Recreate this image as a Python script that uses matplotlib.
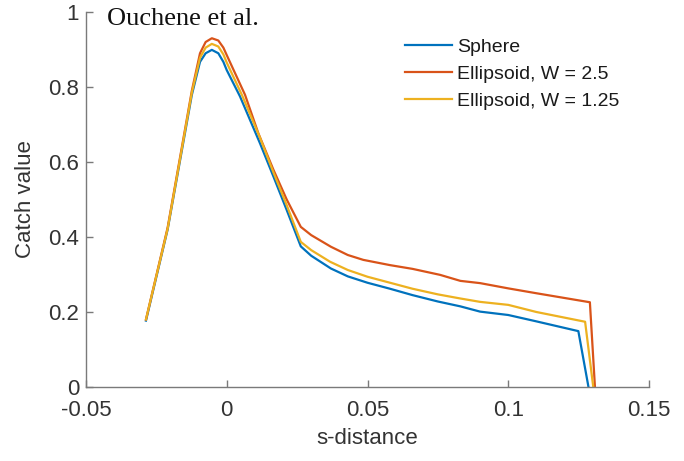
import matplotlib
matplotlib.use("Agg")
import matplotlib.pyplot as plt
from matplotlib.ticker import FixedLocator, FuncFormatter

# Catch value along the s-distance for three particle shapes
sphere_s = [-0.0287, -0.021, -0.0124, -0.0095, -0.0075, -0.0053, -0.003, -0.0012,
            0.0, 0.0047, 0.0118, 0.0166, 0.0213, 0.0263, 0.030, 0.037, 0.043,
            0.050, 0.058, 0.066, 0.075, 0.083, 0.090, 0.100, 0.110, 0.1249, 0.1285]
sphere_c = [0.177, 0.42, 0.779, 0.867, 0.89, 0.899, 0.89, 0.867,
            0.845, 0.775, 0.65, 0.561, 0.472, 0.375, 0.35, 0.316, 0.295,
            0.278, 0.262, 0.245, 0.228, 0.215, 0.201, 0.192, 0.175, 0.149, 0.0]

ell25_s = [-0.0287, -0.021, -0.0124, -0.0095, -0.0075, -0.0053, -0.003, -0.0012,
           0.0, 0.0065, 0.0112, 0.0166, 0.0213, 0.0263, 0.030, 0.037, 0.043,
           0.0485, 0.058, 0.066, 0.0758, 0.083, 0.090, 0.100, 0.110, 0.129, 0.1308]
ell25_c = [0.18, 0.425, 0.79, 0.89, 0.92, 0.93, 0.924, 0.905,
           0.885, 0.779, 0.677, 0.579, 0.50, 0.427, 0.405, 0.374, 0.352,
           0.339, 0.325, 0.315, 0.299, 0.283, 0.277, 0.263, 0.25, 0.226, 0.0]

ell125_s = [-0.0287, -0.021, -0.0124, -0.0095, -0.0075, -0.0053, -0.003, -0.0012,
            0.0, 0.0055, 0.0118, 0.0166, 0.0213, 0.0263, 0.030, 0.0367, 0.043,
            0.050, 0.058, 0.066, 0.075, 0.083, 0.090, 0.100, 0.110, 0.1273, 0.1302]
ell125_c = [0.18, 0.422, 0.785, 0.878, 0.905, 0.915, 0.908, 0.887,
            0.865, 0.777, 0.665, 0.572, 0.485, 0.387, 0.365, 0.334, 0.312,
            0.294, 0.278, 0.262, 0.247, 0.236, 0.227, 0.219, 0.20, 0.174, 0.0]

series_labels = ["Sphere", "Ellipsoid, W = 2.5", "Ellipsoid, W = 1.25"]
series_colors = ["#0072BD", "#D95319", "#EDB120"]

x_ticks = [-0.05, 0, 0.05, 0.1, 0.15]
y_ticks = [0, 0.2, 0.4, 0.6, 0.8, 1]

plt.rcParams["font.family"] = ["Liberation Sans", "DejaVu Sans"]

fig = plt.figure(figsize=(6.84, 4.61), dpi=100)
ax = fig.add_axes([86 / 684, 1 - 387 / 461, 563 / 684, 375 / 461])

for s, c, lab, col in zip([sphere_s, ell25_s, ell125_s],
                          [sphere_c, ell25_c, ell125_c],
                          series_labels, series_colors):
    ax.plot(s, c, color=col, lw=1.6, label=lab, solid_joinstyle="round")

ax.set_xlim(-0.05, 0.15)
ax.set_ylim(0, 1)

fmt = FuncFormatter(lambda v, p: "%g" % v)
ax.xaxis.set_major_locator(FixedLocator(x_ticks))
ax.yaxis.set_major_locator(FixedLocator(y_ticks))
ax.xaxis.set_major_formatter(fmt)
ax.yaxis.set_major_formatter(fmt)

axis_gray = "#7a7a7a"
text_gray = "#333333"
for side in ("top", "right"):
    ax.spines[side].set_visible(False)
for side in ("left", "bottom"):
    ax.spines[side].set_color(axis_gray)
    ax.spines[side].set_linewidth(1.0)

ax.tick_params(axis="both", direction="in", length=5, width=1.0,
               color=axis_gray, labelcolor=text_gray, labelsize=16)
ax.tick_params(axis="x", pad=9)
ax.tick_params(axis="y", pad=5)

ax.set_xlabel("s-distance", fontsize=16, color=text_gray)
ax.xaxis.set_label_coords(0.5, -0.11)
ax.set_ylabel("Catch value", fontsize=16, color=text_gray)
ax.yaxis.set_label_coords(-0.108, 0.5)
ax.yaxis.label.set_verticalalignment("center")

ax.text(-0.0425, 0.965, "Ouchene et al.", fontsize=19,
        family=["Liberation Serif", "DejaVu Serif"], color="#111111",
        ha="left", va="baseline")

leg = ax.legend(loc="upper left", bbox_to_anchor=(405 / 684, 1 - 38 / 461),
                bbox_transform=fig.transFigure, frameon=False, fontsize=14,
                handlelength=2.4, handletextpad=0.3, labelspacing=0.48,
                borderpad=0, borderaxespad=0)
for t in leg.get_texts():
    t.set_color("#1a1a1a")

fig.savefig("out.png", dpi=100)
